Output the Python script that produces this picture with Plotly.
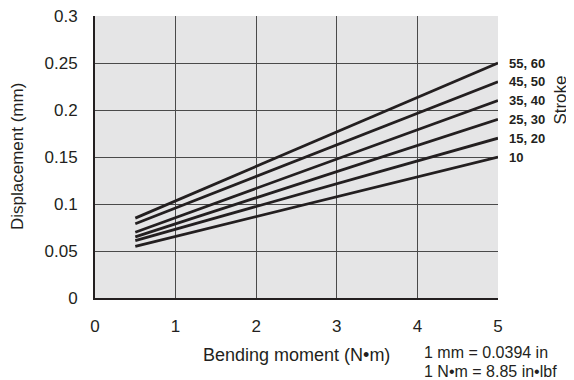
import plotly.graph_objects as go

moment = [0.5, 5]
series_labels = ["55, 60", "45, 50", "35, 40", "25, 30", "15, 20", "10"]
disp_start = [0.085, 0.079, 0.070, 0.065, 0.061, 0.055]
disp_end = [0.25, 0.23, 0.21, 0.19, 0.17, 0.15]
x_ticks = [0, 1, 2, 3, 4, 5]
y_ticks = [0, 0.05, 0.1, 0.15, 0.2, 0.25, 0.3]
y_tick_text = ["0", "0.05", "0.1", "0.15", "0.2", "0.25", "0.3"]
note_lines = ["1 mm = 0.0394 in", "1 N•m = 8.85 in•lbf"]

FONT = "Liberation Sans, Arial, Helvetica, sans-serif"
INK = "#231f20"

fig = go.Figure()
for lab, s, e in zip(series_labels, disp_start, disp_end):
    fig.add_trace(go.Scatter(x=moment, y=[s, e], mode="lines",
                             line=dict(color=INK, width=2.8), name=lab,
                             showlegend=False, hoverinfo="skip"))
    fig.add_annotation(x=5, y=e, xref="x", yref="y", text=f"<b>{lab}</b>",
                       showarrow=False, xanchor="left", xshift=9,
                       font=dict(size=13, color=INK, family=FONT))

# Stroke label (rotated, right side)
fig.add_annotation(x=1, y=0.21, xref="paper", yref="y", text="Stroke",
                   textangle=-90, showarrow=False, xanchor="center",
                   xshift=63, font=dict(size=17, color=INK, family=FONT))
# Axis titles
fig.add_annotation(x=0.5, y=0, xref="paper", yref="paper",
                   text="Bending moment (N•m)", showarrow=False,
                   xanchor="center", yanchor="middle", yshift=-57,
                   font=dict(size=18, color=INK, family=FONT))
fig.add_annotation(x=0, y=0.5, xref="paper", yref="paper",
                   text="Displacement (mm)", textangle=-90, showarrow=False,
                   xanchor="center", yanchor="middle", xshift=-78,
                   font=dict(size=17, color=INK, family=FONT))
# Unit conversion note
for i, line in enumerate(note_lines):
    fig.add_annotation(x=1, y=0, xref="paper", yref="paper", text=line,
                       showarrow=False, xanchor="left", yanchor="middle",
                       xshift=-76, yshift=-54 - 19 * i,
                       font=dict(size=16, color=INK, family=FONT))

# The page body adds an 8px margin, so the figure is sized to fit the window.
fig.update_layout(
    width=566, height=372,
    margin=dict(l=87, r=76, t=8, b=82),
    paper_bgcolor="white", plot_bgcolor="#e5e5e6",
    font=dict(family=FONT, size=17, color=INK),
    xaxis=dict(range=[0, 5], tickvals=x_ticks, showgrid=True,
               gridcolor="#4a4a4a", gridwidth=1, showline=True,
               linecolor=INK, linewidth=2, zeroline=False,
               ticks="outside", ticklen=12, tickcolor="rgba(0,0,0,0)",
               tickfont=dict(size=17), automargin=False,
               ticklabeloverflow="allow"),
    yaxis=dict(range=[0, 0.3], tickvals=y_ticks, ticktext=y_tick_text,
               showgrid=True, gridcolor="#4a4a4a", gridwidth=1,
               showline=True, linecolor=INK, linewidth=2, zeroline=False,
               ticks="outside", ticklen=12, tickcolor="rgba(0,0,0,0)",
               tickfont=dict(size=17), automargin=False,
               ticklabeloverflow="allow"),
)
fig.write_html("out.html")
